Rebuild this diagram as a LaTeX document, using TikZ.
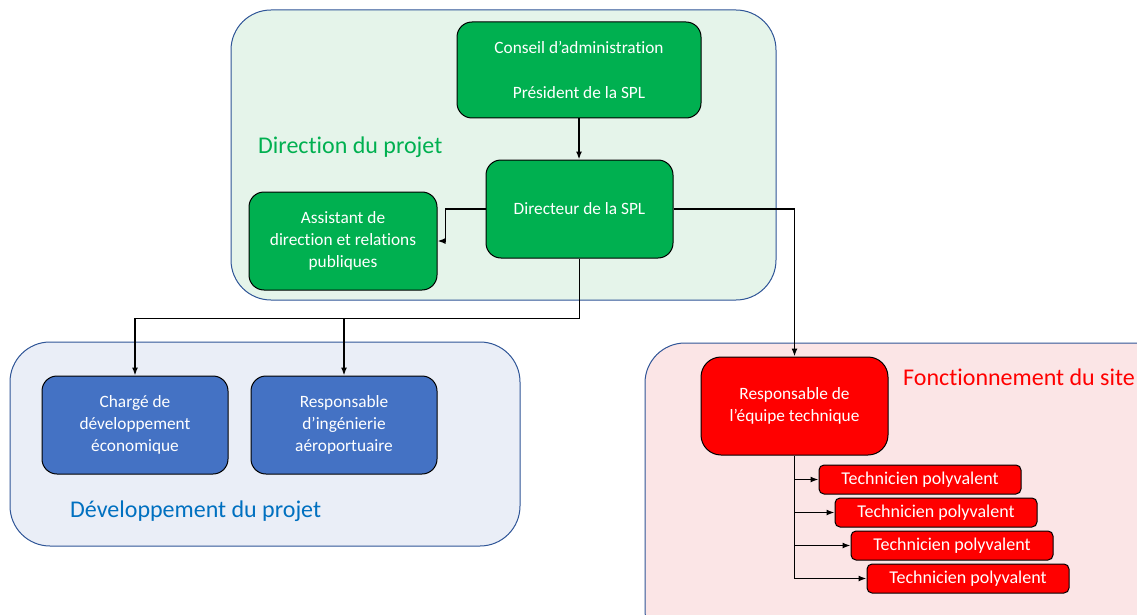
\documentclass[tikz,border=0pt]{standalone}
\usepackage{fontspec}
\setmainfont{Carlito}[Ligatures={NoCommon}]
\usetikzlibrary{arrows.meta}
\definecolor{gfill}{HTML}{00B050}
\definecolor{bfill}{HTML}{4472C4}
\definecolor{rfill}{HTML}{FF0000}
\definecolor{gbg}{HTML}{E5F4EA}
\definecolor{bbg}{HTML}{EAEEF7}
\definecolor{rbg}{HTML}{FBE5E6}
\definecolor{frame}{HTML}{2F5597}
\definecolor{gtitle}{HTML}{00B050}
\definecolor{btitle}{HTML}{0070C0}
\definecolor{rtitle}{HTML}{FF0000}
\tikzset{
  group/.style={draw=frame, line width=1pt, rounded corners=40pt},
  unit/.style={draw=black, line width=1pt, rounded corners=15pt, text=white, align=center, inner sep=0pt,
    font=\fontsize{17.3}{22}\selectfont, minimum width=187pt, minimum height=98pt},
  tech/.style={draw=black, line width=1pt, rounded corners=5pt, text=white, fill=rfill, inner sep=0pt,
    font=\fontsize{18}{22}\selectfont, minimum width=202pt, minimum height=29pt},
  title/.style={anchor=west, inner sep=0pt, font=\fontsize{24}{28}\selectfont},
  arr/.style={line width=1.5pt, -{Latex[length=8pt,width=6pt]}},
}
\begin{document}
\begin{tikzpicture}[x=1pt,y=-1pt]
\useasboundingbox (0,0) rectangle (1137,615);
\clip (0,0) rectangle (1137,615);
% group backgrounds
\draw[group, fill=gbg] (231,10) rectangle (776,300);
\draw[group, fill=bbg] (10,342) rectangle (520,546);
\draw[group, fill=rbg] (645,343) rectangle (1175,650);
% titles
\node[title, text=gtitle] (tdir) at (258,147) {Direction du projet};
\node[title, text=btitle] (tdev) at (70,511) {Développement du projet};
\node[title, text=rtitle] (tfon) at (903,377) {Fonctionnement du site};
% nodes
\node[unit, fill=gfill, minimum width=244pt, minimum height=96pt] (conseil) at (579,70)
  {Conseil d’administration\\[23pt]Président de la SPL};
\node[unit, fill=gfill] (directeur) at (579.5,209) {Directeur de la SPL};
\node[unit, fill=gfill, minimum width=188pt] (assistant) at (343,241)
  {Assistant de\\direction et relations\\publiques};
\node[unit, fill=bfill, minimum width=186pt] (charge) at (135,425)
  {Chargé de\\développement\\économique};
\node[unit, fill=bfill, minimum width=186pt] (ing) at (344,425)
  {Responsable\\d’ingénierie\\aéroportuaire};
\node[unit, fill=rfill, rounded corners=20pt] (resp) at (794.5,406)
  {Responsable de\\l’équipe technique};
\node[tech] (t1) at (920,479.5) {Technicien polyvalent};
\node[tech] (t2) at (936,512.5) {Technicien polyvalent};
\node[tech] (t3) at (952,545.5) {Technicien polyvalent};
\node[tech] (t4) at (968,578.5) {Technicien polyvalent};
% connectors
\draw[arr] (conseil.south) -- (conseil.south |- directeur.north);
\draw[arr] (directeur.west) -- ++(-40,0) |- (assistant.east);
\draw[arr] (directeur.east) -| (resp.north);
\coordinate (j) at ([yshift=-60pt]directeur.south);
\draw[arr] (directeur.south) -- (j) -| (charge.north);
\draw[arr] (j -| ing.north) -- (ing.north);
\draw[line width=1.5pt] (resp.south) -- (resp.south |- t4.west);
\foreach \t in {t1,t2,t3,t4}{
  \draw[arr] (resp.south |- \t.west) -- (\t.west);
}
\end{tikzpicture}
\end{document}
